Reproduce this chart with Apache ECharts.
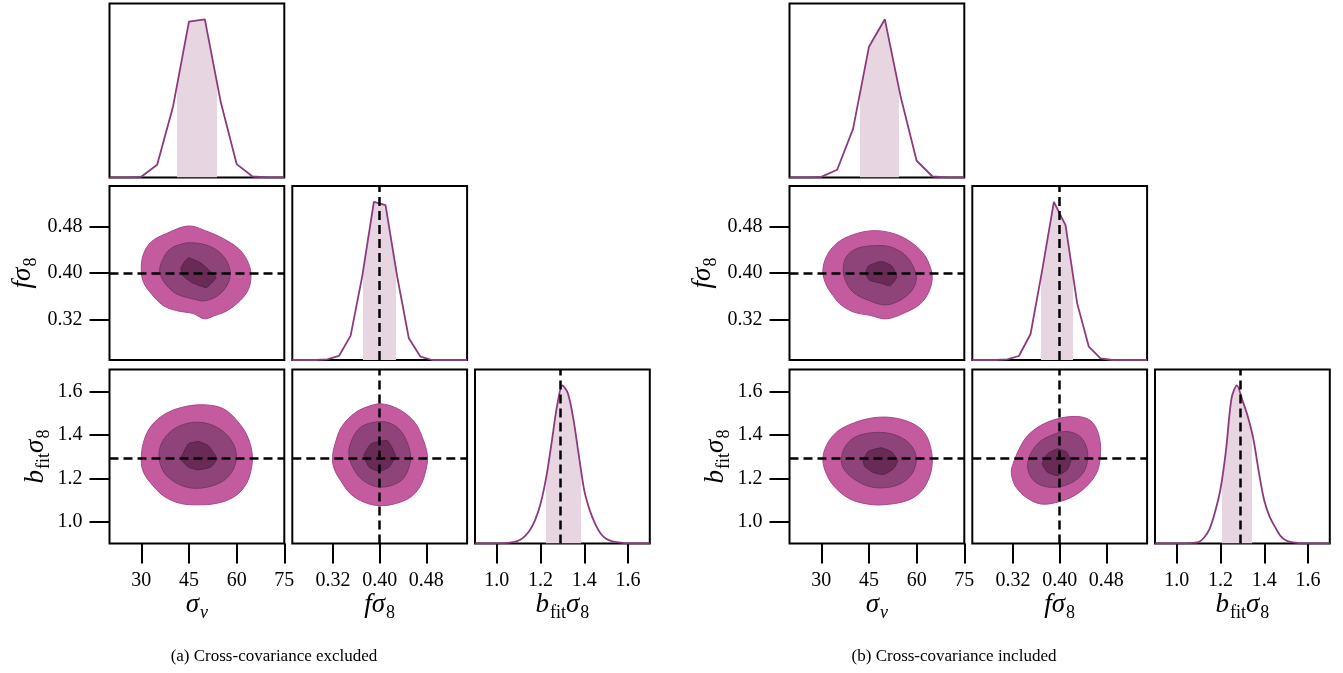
<!DOCTYPE html>
<html><head><meta charset="utf-8">
<script src="https://cdn.jsdelivr.net/npm/echarts@6.0.0/dist/echarts.min.js"></script>
<style>html,body{margin:0;padding:0;background:#fff}#c{width:1343px;height:673px}</style>
</head><body><div id="c"></div>
<script>
// ---------------- DATA ----------------
const SV_TICKS = [30, 45, 60, 75];
const F_TICKS = [0.32, 0.40, 0.48];
const B_TICKS = [1.0, 1.2, 1.4, 1.6];
const TRUTH_F = 0.399;
const TRUTH_B = 1.29;
const CAPTIONS = ['(a) Cross-covariance excluded', '(b) Cross-covariance included'];

// 1D marginals
const SV_GRID = [20, 25, 30, 35, 40, 45, 50, 55, 60, 65, 70, 75];
const SV_PDF_A = [0, 0, 2, 38, 212, 465, 472, 225, 40, 3, 0, 0];
const SV_PDF_B = [0, 0, 2, 23, 145, 390, 472, 240, 50, 3, 0, 0];
const SV_BAND_A = [41.3, 53.7];
const SV_BAND_B = [42.1, 54.5];

const F_GRID = [0.25, 0.27, 0.29, 0.31, 0.33, 0.35, 0.37, 0.39, 0.41, 0.43, 0.45, 0.47, 0.49, 0.51, 0.53, 0.55];
const F_PDF_A = [0, 0, 0, 2, 12, 72, 250, 473, 463, 250, 65, 10, 0, 0, 0, 0];
const F_PDF_B = [0, 0, 0, 2, 12, 78, 270, 475, 405, 170, 40, 5, 0, 0, 0, 0];
const F_BAND_A = [0.372, 0.428];
const F_BAND_B = [0.368, 0.423];

const B_GRID = [0.9, 0.925, 0.95, 0.975, 1.0, 1.025, 1.05, 1.075, 1.1, 1.125, 1.15, 1.175, 1.2, 1.225, 1.25, 1.275, 1.3,
  1.325, 1.35, 1.375, 1.4, 1.425, 1.45, 1.475, 1.5, 1.525, 1.55, 1.575, 1.6, 1.625, 1.65, 1.675, 1.7];
const B_PDF_A = [0, 0, 0, 0, 0, 1, 2, 4, 9, 20, 39, 70, 119, 195, 299, 410, 474,
  450, 374, 265, 159, 100, 59, 30, 14, 7, 4, 2, 0, 0, 0, 0, 0];
const B_PDF_B = [0, 0, 0, 0, 0, 0, 1, 2, 4, 18, 44, 95, 164, 280, 434, 474, 429,
  380, 314, 215, 129, 80, 49, 22, 9, 4, 2, 0, 0, 0, 0, 0, 0];
const B_BAND_A = [1.225, 1.383];
const B_BAND_B = [1.205, 1.346];

// 2D contours (outer, middle, inner), vertices in data units
const CONT_A_SV_F = [
  [[30.0,0.407],[30.7,0.433],[33.2,0.454],[37.9,0.468],[44.8,0.481],[50.6,0.472],[55.9,0.459],[60.6,0.442],[63.3,0.422],[64.5,0.399],[63.8,0.373],[61.2,0.353],[57.0,0.335],[52.8,0.326],[49.8,0.321],[46.4,0.330],[41.2,0.335],[36.9,0.344],[33.2,0.364],[30.7,0.384]],
  [[35.8,0.407],[36.9,0.425],[39.0,0.441],[42.7,0.450],[45.8,0.452],[50.6,0.448],[54.8,0.435],[57.3,0.416],[58.0,0.396],[56.7,0.376],[53.8,0.360],[49.7,0.352],[45.8,0.356],[41.1,0.364],[37.9,0.379],[36.3,0.393]],
  [[42.5,0.409],[44.8,0.426],[48.5,0.418],[51.1,0.406],[53.5,0.392],[50.4,0.375],[45.8,0.384],[43.0,0.396]]
];
const CONT_A_SV_B = [
  [[30.0,1.281],[30.7,1.366],[33.2,1.442],[37.9,1.499],[44.3,1.531],[50.6,1.537],[55.9,1.519],[60.1,1.465],[63.3,1.396],[64.9,1.312],[64.5,1.235],[62.7,1.166],[59.0,1.113],[53.8,1.085],[47.9,1.078],[42.1,1.085],[36.9,1.120],[33.2,1.174],[30.7,1.228]],
  [[35.6,1.297],[36.3,1.358],[39.0,1.412],[43.2,1.447],[48.5,1.457],[53.8,1.434],[58.0,1.381],[59.9,1.312],[59.0,1.243],[55.9,1.189],[50.6,1.159],[45.3,1.156],[40.6,1.182],[37.1,1.228]],
  [[42.5,1.289],[44.8,1.358],[47.9,1.369],[51.1,1.350],[53.8,1.289],[51.8,1.251],[47.9,1.239],[44.8,1.251]]
];
const CONT_A_F_B = [
  [[0.319,1.297],[0.325,1.373],[0.336,1.442],[0.359,1.503],[0.385,1.534],[0.402,1.542],[0.425,1.527],[0.445,1.496],[0.462,1.450],[0.473,1.389],[0.482,1.304],[0.479,1.235],[0.470,1.166],[0.453,1.113],[0.425,1.082],[0.399,1.074],[0.373,1.090],[0.350,1.128],[0.333,1.189],[0.322,1.243]],
  [[0.347,1.312],[0.353,1.381],[0.367,1.434],[0.390,1.457],[0.413,1.457],[0.433,1.427],[0.447,1.366],[0.453,1.297],[0.447,1.228],[0.433,1.182],[0.402,1.159],[0.376,1.182],[0.357,1.235]],
  [[0.373,1.304],[0.385,1.358],[0.413,1.373],[0.427,1.304],[0.416,1.251],[0.399,1.232],[0.382,1.251]]
];
const CONT_B_SV_F = [
  [[30.5,0.402],[31.6,0.428],[34.8,0.451],[40.0,0.466],[46.4,0.473],[52.7,0.468],[58.0,0.454],[62.2,0.433],[64.3,0.410],[64.9,0.390],[63.8,0.367],[61.2,0.347],[56.9,0.333],[50.6,0.321],[45.3,0.327],[40.0,0.333],[35.8,0.347],[33.7,0.361],[31.6,0.379]],
  [[36.9,0.407],[37.9,0.428],[41.1,0.442],[46.4,0.447],[51.7,0.445],[56.4,0.431],[59.0,0.410],[59.9,0.390],[58.5,0.370],[54.8,0.353],[50.1,0.345],[44.8,0.353],[40.0,0.367],[37.6,0.387]],
  [[44.0,0.399],[44.8,0.412],[49.0,0.420],[52.2,0.412],[53.8,0.393],[51.6,0.378],[48.5,0.383],[45.3,0.387]]
];
const CONT_B_SV_B = [
  [[30.5,1.281],[31.6,1.350],[34.8,1.412],[40.0,1.453],[46.4,1.478],[52.7,1.478],[59.0,1.450],[62.7,1.404],[64.5,1.335],[64.9,1.266],[63.8,1.197],[61.2,1.136],[56.9,1.097],[49.5,1.078],[44.3,1.082],[39.0,1.105],[34.8,1.151],[32.1,1.205]],
  [[36.3,1.281],[37.4,1.343],[40.6,1.389],[45.8,1.409],[51.1,1.407],[55.9,1.381],[59.0,1.335],[59.9,1.281],[58.5,1.220],[54.8,1.174],[49.5,1.156],[44.3,1.166],[39.5,1.205],[37.1,1.243]],
  [[43.2,1.281],[44.8,1.324],[49.0,1.340],[52.2,1.320],[54.0,1.281],[52.7,1.243],[49.5,1.217],[46.1,1.228],[43.7,1.254]]
];
const CONT_B_F_B = [
  [[0.317,1.235],[0.322,1.281],[0.332,1.343],[0.345,1.396],[0.367,1.442],[0.396,1.473],[0.425,1.484],[0.448,1.473],[0.462,1.434],[0.469,1.373],[0.470,1.312],[0.465,1.235],[0.450,1.174],[0.425,1.120],[0.396,1.090],[0.367,1.082],[0.342,1.113],[0.325,1.159],[0.319,1.197]],
  [[0.345,1.251],[0.350,1.312],[0.365,1.366],[0.385,1.396],[0.410,1.415],[0.433,1.396],[0.445,1.350],[0.448,1.289],[0.441,1.228],[0.422,1.182],[0.396,1.159],[0.370,1.166],[0.353,1.197]],
  [[0.370,1.266],[0.379,1.312],[0.396,1.335],[0.412,1.320],[0.419,1.281],[0.413,1.239],[0.396,1.212],[0.379,1.228]]
];

// ---------------- STYLE / LAYOUT ----------------
const SERIF = '"Liberation Serif", "Times New Roman", serif';
const BLACK = '#000';
const LINE_C = '#8b3b7b', SHADE_C = '#e7d6e2';
const FILL = ['#c45b9f', '#8f4479', '#692b56'];
const EDGE = ['#a8468a', '#7a3567', '#58224a'];
const DASH = {type: [9, 5], color: BLACK, width: 2.5};

const rich = {
  m: {fontFamily: SERIF, fontStyle: 'italic', fontSize: 27, lineHeight: 30, verticalAlign: 'top', color: BLACK},
  s: {fontFamily: SERIF, fontSize: 18, lineHeight: 20, verticalAlign: 'top', padding: [13, 0, 0, 1], color: BLACK},
  si: {fontFamily: SERIF, fontStyle: 'italic', fontSize: 18, lineHeight: 20, verticalAlign: 'top', padding: [13, 0, 0, 1], color: BLACK}
};
const VARS = {
  sv: {min: 20, max: 75, ticks: SV_TICKS, fmt: v => String(v), name: '{m|σ}{si|v}'},
  f: {min: 0.25, max: 0.55, ticks: F_TICKS, fmt: v => v.toFixed(2), name: '{m|fσ}{s|8}'},
  b: {min: 0.9, max: 1.7, ticks: B_TICKS, fmt: v => v.toFixed(1), name: '{m|b}{s|fit}{m|σ}{s|8}'}
};

const COL_LEFT = [109.5, 292.3, 475];
const ROW_TOP = [3.5, 186, 369.5];
const W = 174.8, H = 174;
const PLOT_DX = [0, 680];

const grids = [], xAxes = [], yAxes = [], series = [], visualMaps = [], graphics = [];

function valAxis(gi, v, showTicks, name, nameGap, isY) {
  const ax = {
    type: 'value', gridIndex: gi, min: v.min, max: v.max,
    axisLine: {show: false}, splitLine: {show: false},
    axisTick: {show: showTicks, customValues: v.ticks, length: 20, inside: false, lineStyle: {color: BLACK, width: 2}},
    axisLabel: {show: showTicks, customValues: v.ticks, formatter: v.fmt, fontFamily: SERIF, fontSize: 20, color: BLACK, margin: 27, hideOverlap: false}
  };
  if (name) {
    ax.name = v.name; ax.nameLocation = 'middle'; ax.nameGap = nameGap;
    ax.nameTextStyle = {rich: rich};
    if (isY) ax.nameRotate = 90;
  }
  return ax;
}

function addGrid(p, r, c) {
  grids.push({left: COL_LEFT[c] + PLOT_DX[p], top: ROW_TOP[r], width: W, height: H,
    show: true, borderColor: BLACK, borderWidth: 2, backgroundColor: 'transparent', containLabel: false});
  return grids.length - 1;
}

function addDiag(p, r, c, key, grid, pdf, band, bottom, smooth) {
  const gi = addGrid(p, r, c);
  const v = VARS[key];
  xAxes.push(valAxis(gi, v, bottom, bottom, 48, false));
  yAxes.push({type: 'value', gridIndex: gi, min: 0, max: 1.1 * Math.max.apply(null, pdf), show: false});
  const pts = grid.map((x, i) => [x, pdf[i]]);
  const shadeIdx = series.length;
  series.push({type: 'line', xAxisIndex: gi, yAxisIndex: gi, data: pts, symbol: 'none', smooth: smooth, silent: true,
    lineStyle: {width: 0, opacity: 0}, areaStyle: {opacity: 1}, z: 1, animation: false});
  visualMaps.push({type: 'piecewise', show: false, dimension: 0, seriesIndex: shadeIdx,
    pieces: [{gte: band[0], lte: band[1], color: SHADE_C}], outOfRange: {color: 'rgba(255,255,255,0)'}});
  series.push({type: 'line', xAxisIndex: gi, yAxisIndex: gi, data: pts, symbol: 'none', smooth: smooth, silent: true,
    lineStyle: {color: LINE_C, width: 1.8}, z: 3, animation: false});
  return gi;
}

function addContour(p, r, c, kx, ky, levels, xTicks, yTicks, yNameGap) {
  const gi = addGrid(p, r, c);
  xAxes.push(valAxis(gi, VARS[kx], xTicks, xTicks, 48, false));
  yAxes.push(valAxis(gi, VARS[ky], yTicks, yTicks, yNameGap, true));
  series.push({
    type: 'custom', coordinateSystem: 'cartesian2d', xAxisIndex: gi, yAxisIndex: gi, silent: true, animation: false, z: 2,
    data: levels.map(poly => poly[0]),
    renderItem: function (params, api) {
      const k = params.dataIndex;
      const poly = levels[k];
      return {type: 'polygon', shape: {points: poly.map(pt => api.coord(pt)), smooth: k === 2 ? 0.15 : 0.35},
        style: {fill: FILL[k], stroke: EDGE[k], lineWidth: 1}};
    }
  });
  return gi;
}

function addDash(gi, xs, ys) {
  const data = [];
  xs.forEach(x => data.push({xAxis: x}));
  ys.forEach(y => data.push({yAxis: y}));
  series.push({type: 'line', xAxisIndex: gi, yAxisIndex: gi, data: [], silent: true, z: 5,
    markLine: {silent: true, symbol: 'none', animation: false, label: {show: false}, lineStyle: DASH, emphasis: {disabled: true}, data: data}});
}

const PLOTS = [
  {sv: SV_PDF_A, svb: SV_BAND_A, f: F_PDF_A, fb: F_BAND_A, b: B_PDF_A, bb: B_BAND_A, c1: CONT_A_SV_F, c2: CONT_A_SV_B, c3: CONT_A_F_B},
  {sv: SV_PDF_B, svb: SV_BAND_B, f: F_PDF_B, fb: F_BAND_B, b: B_PDF_B, bb: B_BAND_B, c1: CONT_B_SV_F, c2: CONT_B_SV_B, c3: CONT_B_F_B}
];

PLOTS.forEach((P, p) => {
  addDiag(p, 0, 0, 'sv', SV_GRID, P.sv, P.svb, false, false);
  let g = addContour(p, 1, 0, 'sv', 'f', P.c1, false, true, 70);
  addDash(g, [], [TRUTH_F]);
  g = addDiag(p, 1, 1, 'f', F_GRID, P.f, P.fb, false, false);
  addDash(g, [TRUTH_F], []);
  g = addContour(p, 2, 0, 'sv', 'b', P.c2, true, true, 56);
  addDash(g, [], [TRUTH_B]);
  g = addContour(p, 2, 1, 'f', 'b', P.c3, true, false, 0);
  addDash(g, [TRUTH_F], [TRUTH_B]);
  g = addDiag(p, 2, 2, 'b', B_GRID, P.b, P.bb, true, 0.3);
  addDash(g, [TRUTH_B], []);
  graphics.push({type: 'text', x: 274 + PLOT_DX[p], y: 657,
    style: {text: CAPTIONS[p], font: '17px ' + SERIF, fill: BLACK, align: 'center', verticalAlign: 'middle'}});
});

const chart = echarts.init(document.getElementById('c'));
chart.setOption({
  animation: false,
  backgroundColor: '#fff',
  grid: grids, xAxis: xAxes, yAxis: yAxes, series: series, visualMap: visualMaps, graphic: graphics
});
</script>
</body></html>
